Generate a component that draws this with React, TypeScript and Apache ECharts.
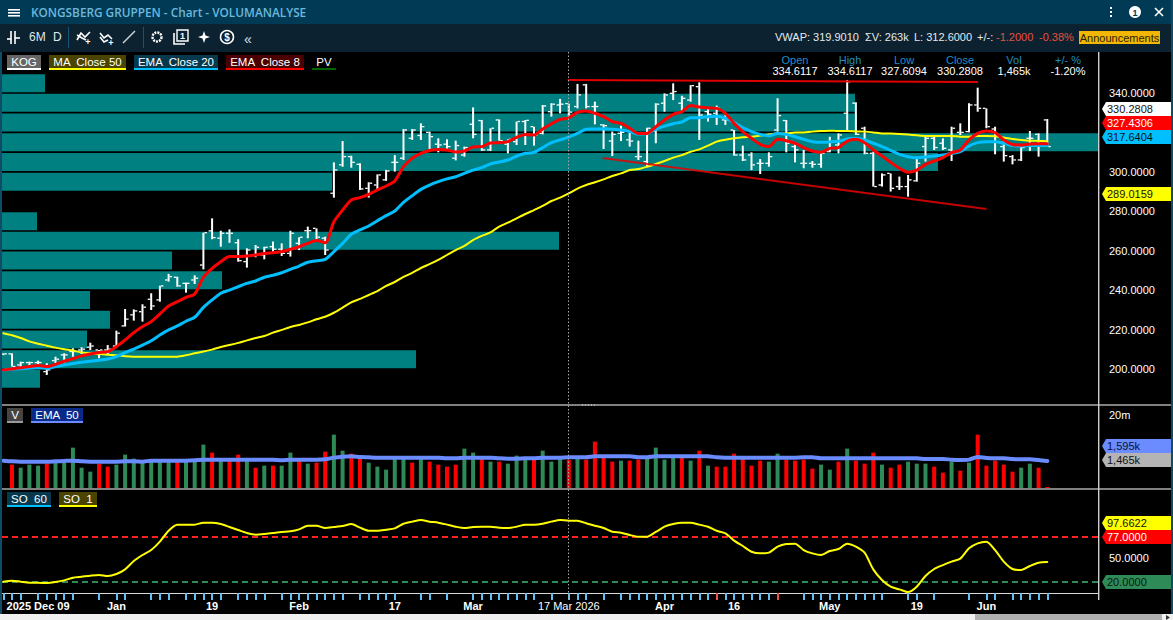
import React, { useEffect, useRef } from "react";
import * as echarts from "echarts";

const opens = [207.8,207.6,202,203.2,203.2,198.6,204.2,207.1,208.8,209.6,211,209.6,209.6,211.6,221.8,227.4,229,235.3,235,245.1,246.5,243.4,245.1,252.7,270,266.3,268.8,264,254.4,257.8,257.8,262,260.7,258.6,263.7,270.1,271.3,266.3,289.1,303.5,307.7,303.8,291.6,293.3,295.9,304.8,306.9,317,318.4,320,314,314,306.9,308.5,324.1,326,311.1,326.3,314,315.3,325.5,322.9,319.5,330.5,333.9,334.6117,333.1,344.1,333.1,323.8,315.6,319.5,316.2,307.7,305.2,320.4,334.8,339.8,334.8,336.4,343.2,330.5,329.7,326.3,321.2,308.5,308.5,304.3,304.3,321.2,326,312.8,304.3,304.3,303.8,310.2,313.6,329.7,334.8,322.1,309.4,293.3,299.2,292.5,292.5,295.4,312.8,317,314.5,311.1,320,320.4,333.9,332.2,321.7,312.8,307.7,306,317,319,326.3];
const highs = [207.9,207.9,203.7,203.7,204.2,202.9,206.2,207.9,210.5,211,213.3,209.6,212.1,219.4,230.4,230.2,232.8,238.4,242.2,248.2,246.8,243.8,247.5,269.1,276.4,270.1,270.8,265.8,261.2,262.9,262,264.6,263.7,270.1,266.8,272.2,271.3,267.1,304.8,315.6,308.2,304.3,294.7,298.7,301,308.5,321.7,321.7,324.6,320.4,317,316.5,315.8,312.8,332.7,326.3,322.1,326.6,316.5,325.5,326.3,322.9,333.9,334.8,337,334.6117,344.6,344.6,335.6,324.1,320.4,323.4,320,315.8,322.4,334.8,339.8,344.9,338.6,344,345.4,332.2,333.6,328.8,321.2,313.3,309.9,306.5,309.9,337.3,326.3,314.5,311.1,305.5,309.9,317.8,319.5,346.6,335.3,322.9,310.2,299.2,299.2,297.6,298.4,307.7,317.8,317.8,317,322.9,324.6,334.8,342.7,332.2,322.9,317.8,308.5,312.8,320.7,319.5,326.8];
const lows = [207,201.2,200.3,201.2,201.5,196.9,202.9,202.9,206.2,207.6,209.6,205.4,207.1,211.3,221.5,224.5,224,229.9,234.1,244.3,241.7,238.7,243.1,250.5,265.8,262,264,254.4,251.4,256.6,255.6,259.5,257.3,257,260.3,266.3,265.4,257.8,286.9,302.6,302.1,290.8,286.9,290.8,295.4,300.1,306,316.2,316.2,311.6,309.9,311.1,305.8,307.7,317,310.6,310.6,315.8,309.4,313.6,313.6,313.3,319,328,329.7,327.6094,332.2,332.2,324.1,311.6,308,315.6,312.8,306,302.6,314.5,330.5,336.4,330.9,335.6,316.2,325.5,323.8,323.8,308.2,305.5,300.9,298.9,302.6,320.4,309.9,304.8,301.8,302.1,302.1,309.9,309.4,320.7,318.7,308.9,292.5,292.5,290,290.8,287.4,295,305.2,311.1,311.1,305.5,318.7,320,330.5,322.1,308.9,305.2,303.8,305.5,310.6,307.7,312.6];
const closes = [207.6,201.2,203.2,203.2,203.2,199.5,204.9,207.1,208.8,210,211.6,209.6,210,218.1,225.2,229.4,231.3,231.9,242.1,246.8,242.1,243.4,246,269.1,266.6,268.8,268.8,254.9,260.3,261.7,261.7,260.7,258.6,268.8,266.8,270.1,266.8,260.3,300.9,307.7,304.8,291.3,294.2,298.4,300.4,304.8,321.2,321.2,322.9,317.8,313.6,312.8,313.3,312.3,319,311.1,322.1,315.8,316.5,325.5,326.1,318.7,333.4,334.3,334.3,330.2808,339,333.1,333.1,323.4,319,320,315.6,307.7,322.1,334.3,339,340.7,337.3,343.7,328.8,329.2,332.2,326.3,308.5,306,303.5,304.3,307.7,328.5,314.5,311.1,304.3,303.8,309.4,315.3,318.7,345.7,319,309.4,292.5,298.4,291.6,292.5,295.9,304.3,317,312.3,311.9,322.1,320,333.9,332.2,322.9,318.7,308.2,306,312.3,317,313.6,312.8];

const ma50 = [218.1,217.1,215.7,214,212.8,211.8,210.8,210,209.3,208.4,207.9,207.6,207.2,206.9,206.4,206.2,206.2,206.2,206.2,206.2,206.2,206.9,207.9,208.8,209.8,211.1,212.1,213.2,214.5,215.7,216.7,218.4,219.8,221.3,222.3,223.6,225.2,226.5,228.5,231.1,233.8,235.5,237.5,239.5,242.1,244.1,246.7,248.7,251.2,253.2,255.3,257.8,260.3,262.4,265.4,267.5,269.3,272.2,274.2,276.4,278.6,280.6,282.7,285.2,286.9,289.0159,291.5,293.3,294.7,296.2,297.9,299.2,300.9,301.4,302.6,304,305.5,307.2,308.5,310.2,311.4,313.3,315.3,316.3,317,317.5,317.8,318.4,319,319.4,319.5,319.9,320,320.4,320.7,320.9,320.7,320.7,320.5,320.4,320,319.5,319.4,319.2,318.9,318.5,318.2,318.2,318.2,318.2,317.8,317.8,318.2,318.2,318,317.3,316.7,316.2,315.8,315.7,315.5];
const ema20 = [199.5,199.8,200.1,200.3,200.6,200.3,201.2,202,202.7,203.4,203.9,204.4,205,206.2,208.3,210.1,212.1,214.3,217.2,219.8,221.8,224.2,226.2,231.2,235,238.4,240,241.7,243.4,244.6,246.5,247.5,248.8,250.5,252.2,254.1,254.9,255.6,259.5,263.7,268.3,270.5,272.5,275.2,277.8,280.1,284.5,287.9,291.1,293.3,295,296.4,297.5,299.2,300.9,302.1,304,305,306,307.9,309.4,309.9,312.3,314.8,316.2,317.6404,319.5,321.6,321.7,321.9,321.6,321.2,320.4,319.2,319.4,321.6,323.2,324.4,325.3,327.5,327.5,328,328.2,327.2,325.1,322.4,320.4,319,318.2,319.5,319,317.8,316.5,315.3,315,315.2,315.5,316.7,317,316.2,314.5,312.8,310.9,308.9,307.7,307.2,307.5,308,308.5,309.4,310.2,313.1,314.8,315.3,315.3,314.5,313.3,313.1,313.3,313.3,313.3];
const ema8 = [199.5,200,200.6,201.2,201.7,201.2,202.3,203.9,205.2,206.6,207.6,208.3,208.8,211.3,214.7,218.4,221.5,224,227.9,231.9,234.1,236.3,238,246.5,251,254.4,257,257,257.3,257.8,258.6,259,259.5,260.7,262,263.7,265.1,264,274.7,280.6,285.7,286.9,288.6,290.8,292.8,295.4,302.6,306.9,309.4,310.8,311.3,311.1,310.1,310.6,312.6,312.8,314.6,314.8,315.3,317.5,319,318.7,321.7,324.4,326.6,327.4306,330.2,330.9,329.7,328,325.5,324.6,322.1,319.4,319.5,322.9,326.3,329.2,330.5,333.6,332.9,332.4,332.2,329.7,324.6,320.4,317,313.9,312.8,316.5,315.8,314.5,312.3,310.6,309.9,311.9,312.3,315.6,316.5,314.8,311.1,308,304.8,301.8,299.8,300.9,303.8,305.5,307.2,309.7,311.1,316.2,319.5,320.7,319.9,316.2,313.9,313.6,314.1,314.3,314.3];

const volumes = [0,1222,1064,1222,1169,1274,1309,1309,2111,1064,855,1274,1117,1222,1745,1536,1309,1396,1396,1396,1396,1396,1431,2269,1850,1431,1431,1745,1431,1064,1169,1169,1169,1850,1431,1274,1326,1902,2792,1954,1797,1658,1326,1117,960,1536,1571,1326,1571,1379,1222,1117,1222,2059,1850,1571,1379,1379,1274,1693,1483,1483,1954,1379,1571,1465,1536,1483,2426,1658,1379,1431,1431,1483,1571,2111,1483,1658,1658,1431,1954,1169,1117,1117,1797,1571,1169,1431,1379,1797,1483,1431,1483,1012,1222,960,1379,2059,1431,1274,1850,1222,1064,1222,1379,1274,1274,1117,803,1379,907,1326,2792,1169,1431,1222,855,1064,1274,1064,52];
const volumeSides = ("g" + "rgggrggggg" + "rrgggggggr" + "gggrgrrgrg" + "rggrgrrggr" + "rgggggrgrr" + "rrggrgrggg" + "rgggrgrrrr" + "grrggggrgr" + "grrrrrrggr" + "rrrggrgrrr" + "grrgggrrgr" + "grrrrrggrr").split("");
const volumeEma = [1431,1396,1379,1379,1379,1379,1396,1413,1431,1396,1379,1379,1379,1379,1396,1396,1379,1431,1431,1431,1431,1431,1448,1483,1483,1483,1483,1483,1483,1483,1483,1483,1448,1483,1483,1483,1483,1501,1588,1640,1658,1623,1605,1588,1588,1588,1588,1588,1588,1588,1588,1553,1553,1588,1588,1588,1588,1553,1536,1536,1553,1553,1588,1588,1588,1605,1605,1605,1658,1658,1658,1658,1658,1605,1605,1658,1658,1658,1658,1658,1658,1658,1605,1588,1588,1588,1588,1588,1588,1588,1588,1588,1605,1605,1553,1553,1553,1553,1553,1553,1553,1553,1553,1553,1553,1553,1518,1518,1518,1483,1466,1483,1623,1571,1553,1553,1518,1501,1501,1466,1413];

const stochastic = [20.4,21.7,20.4,19.1,19.1,18.7,20,22.1,25.5,26.7,28,28.9,27.6,30.1,36,46.6,54.2,60.5,71.1,85,92.7,92.7,92.7,95.2,95.2,93.5,89.7,85.9,82.1,80,80.8,82.1,83.4,84.2,86.7,91.4,91.4,88.4,89.7,91,93.5,88.9,85,85,86.3,88,93.9,96.5,98.6,96.5,95.2,92.7,90.1,88.4,89.7,90.1,90.1,88.9,88.4,90.1,92.7,92.7,93.9,96.5,98.6,97.6622,97.7,94.4,91.4,88.4,83.8,82.5,79.6,77.4,77.4,83.4,90.1,93.5,95.2,95.2,92.7,90.1,85,81.7,72.4,65.6,58.4,56.3,57.2,64.8,68.2,68.6,60.5,56.3,54.2,59.3,61.8,68.6,64.8,57.2,36,22.5,14.1,10.7,7.3,14.1,27.6,36.5,41.5,45.8,49.6,62.7,69,71.1,60.5,45.8,36.5,35.2,40.3,44.5,45.3];

const profileLevels = ["195","205","215","225","235","245","255","265","275","285","295","305","315","325","335","345"];
const profileVolumes = [38,414,85,108,88,220,170,557,35,0,330,936,1096,855,853,43];

const resistance = [[64.9,346.6],[112,345.6]];
const support = [[68.9,307],[113,281.1]];
const soUpper = 77;
const soLower = 20;

const priceTicks = [200,220,240,260,280,300,340];
const dateLabels: Record<number,string> = {4:"2025 Dec 09",13:"Jan",24:"19",34:"Feb",45:"17",54:"Mar",65:"17 Mar 2026",76:"Apr",84:"16",95:"May",105:"19",113:"Jun"};
const dateTicks = [0,1,2,4,5,6,7,8,11,13,14,17,18,19,21,22,23,24,25,27,28,29,30,32,33,34,35,36,37,38,39,41,42,43,44,45,48,49,51,54,55,56,57,58,59,60,61,63,65,66,67,69,71,72,73,74,75,76,77,78,79,80,81,83,84,85,86,87,88,92,93,94,95,96,97,98,99,100,101,104,105,107,111,113,114,116,117,118,119,120];
const redDateTicks = [82,89];

const FONT = '"Liberation Sans", Arial, sans-serif';
const X_MIN = -0.149;
const X_MAX = 125.83;
const TEAL = "#008080";

const txt = (text: string, x: number, y: number, fill: string, size = 11, align = "left", weight = "normal", family = FONT) => ({
  type: "text", z: 30, silent: true,
  style: { text, x, y, fill, font: `${weight} ${size}px ${family}`, align, textAlign: align, verticalAlign: "middle", textVerticalAlign: "middle" },
});
const rect = (x: number, y: number, width: number, height: number, fill: string, z = 25) => ({
  type: "rect", z, silent: true, shape: { x, y, width, height }, style: { fill },
});
const pline = (points: number[][], stroke = "#fff", lineWidth = 1.6) => ({
  type: "polyline", z: 30, silent: true, shape: { points }, style: { stroke, lineWidth, fill: "none" },
});
const chip = (x: number, y: number, w: number, label: string, bg: string | null, under: string) => [
  ...(bg ? [rect(x, y, w, 13, bg)] : []),
  rect(x, y + 13, w, 2, under),
  txt(label, x + w / 2, y + 7, "#ffffff", 11.5, "center"),
];
const tag = (y: number, text: string, bg: string, color: string) => [
  { type: "polygon", z: 28, silent: true, shape: { points: [[1102, y], [1106, y - 7], [1171, y - 7], [1171, y + 7], [1106, y + 7]] }, style: { fill: bg } },
  txt(text, 1107, y, color, 11),
];

function buildGraphic() {
  const els: any[] = [
    rect(0, 0, 1173, 24, "#003a54"),
    rect(0, 24, 1173, 28, "#0c2230"),
    rect(0, 52, 2, 562, "#0f4c68"),
    rect(1171, 0, 2, 614, "#0f4c68"),
    rect(8, 9, 12, 1.6, "#ffffff"), rect(8, 12, 12, 1.6, "#ffffff"), rect(8, 15, 12, 1.6, "#ffffff"),
    txt("KONGSBERG GRUPPEN - Chart - VOLUMANALYSE", 31, 12, "#6cb8dc", 11.8, "left", "600", '"Open Sans", sans-serif'),
    // window controls
    rect(1110, 7, 2, 2, "#fff"), rect(1110, 11, 2, 2, "#fff"), rect(1110, 15, 2, 2, "#fff"),
    { type: "circle", z: 30, silent: true, shape: { cx: 1135, cy: 12, r: 6 }, style: { fill: "#fff" } },
    txt("1", 1135, 12.5, "#003a54", 9, "center", "bold"),
    pline([[1155, 8], [1163, 16]]), pline([[1163, 8], [1155, 16]]),
    // toolbar
    pline([[7, 39], [11, 39]]), pline([[11, 31], [11, 44]]), pline([[15, 31], [15, 44]]), pline([[15, 38], [20, 38]]),
    txt("6M", 29, 37, "#dfe8ee", 12), txt("D", 53, 37, "#dfe8ee", 12),
    rect(68, 27, 1, 21, "#14567a"), rect(143, 27, 1, 21, "#14567a"),
    pline([[77, 40], [81, 33], [85, 37], [90, 32]]), pline([[77, 35], [82, 38], [86, 40]]), txt("+", 88, 42, "#fff", 9, "center", "bold"),
    pline([[100, 33], [104, 38], [108, 35], [112, 39]]), pline([[100, 37], [104, 42], [108, 40]]), txt("+", 111, 43, "#fff", 9, "center", "bold"),
    pline([[123, 43], [135, 31]], "#cfd6db", 1.4),
    { type: "circle", z: 30, silent: true, shape: { cx: 157, cy: 37, r: 4.5 }, style: { fill: "none", stroke: "#fff", lineWidth: 2.4, lineDash: [2, 1] } },
    { type: "rect", z: 30, silent: true, shape: { x: 177, y: 30, width: 11, height: 11 }, style: { fill: "none", stroke: "#fff", lineWidth: 1.4 } },
    pline([[174, 33], [174, 44], [185, 44]]),
    txt("1", 182.5, 35.5, "#fff", 9, "center", "bold"),
    { type: "polygon", z: 30, silent: true, shape: { points: [[204, 31], [205.5, 35.5], [210, 37], [205.5, 38.5], [204, 43], [202.5, 38.5], [198, 37], [202.5, 35.5]] }, style: { fill: "#fff" } },
    { type: "circle", z: 30, silent: true, shape: { cx: 227, cy: 37, r: 6.5 }, style: { fill: "none", stroke: "#fff", lineWidth: 1.5 } },
    txt("$", 227, 37, "#fff", 10, "center", "bold"),
    txt("«", 248, 39, "#cfe0ea", 14, "center"),
    // status strip
    txt("VWAP: 319.9010", 775, 37, "#e4e9ec", 11),
    txt("ΣV: 263k", 865, 37, "#e4e9ec", 11),
    txt("L: 312.6000", 914, 37, "#e4e9ec", 11),
    txt("+/-:", 977, 37, "#e4e9ec", 11),
    txt("-1.2000", 996, 37, "#e8503f", 11),
    txt("-0.38%", 1039, 37, "#e8503f", 11),
    rect(1079, 31, 81, 13, "#f2b705"),
    txt("Announcements", 1119.5, 37.5, "#2a2100", 11, "center"),
    // crosshair readout
    txt("Open", 795, 60, "#1f8ec2", 11, "center"), txt("High", 850, 60, "#1f8ec2", 11, "center"),
    txt("Low", 904, 60, "#1f8ec2", 11, "center"), txt("Close", 960, 60, "#1f8ec2", 11, "center"),
    txt("Vol", 1014, 60, "#1f8ec2", 11, "center"), txt("+/- %", 1068, 60, "#1f8ec2", 11, "center"),
    txt("334.6117", 795, 70.5, "#fff", 11, "center"), txt("334.6117", 850, 70.5, "#fff", 11, "center"),
    txt("327.6094", 904, 70.5, "#fff", 11, "center"), txt("330.2808", 960, 70.5, "#fff", 11, "center"),
    txt("1,465k", 1014, 70.5, "#fff", 11, "center"), txt("-1.20%", 1068, 70.5, "#fff", 11, "center"),
    ...chip(7, 55, 34, "KOG", "#666666", "#ffffff"),
    ...chip(49, 55, 77, "MA  Close 50", "#4a4400", "#ffff00"),
    ...chip(134, 55, 84, "EMA  Close 20", "#06394d", "#00bfff"),
    ...chip(226, 55, 78, "EMA  Close 8", "#4a0000", "#ff0000"),
    ...chip(312, 55, 24, "PV", null, "#006400"),
    ...chip(7, 408, 16, "V", "#444444", "#999999"),
    ...chip(31, 408, 52, "EMA  50", "#0a2a8a", "#6a8cff"),
    ...chip(7, 492, 44, "SO  60", "#06394d", "#00bfff"),
    ...chip(59, 492, 38, "SO  1", "#4a4400", "#ffff00"),
    // panel separators and scale rule
    rect(0, 404, 1171, 2, "#808080", 24),
    rect(0, 488, 1171, 2, "#808080", 24),
    rect(1098, 52, 1.4, 548, "#cfcfcf", 26),
    { type: "line", z: 26, silent: true, shape: { x1: 582, y1: 405, x2: 596, y2: 405 }, style: { stroke: "#e0e0e0", lineWidth: 1, lineDash: [1, 2] } },
    { type: "line", z: 26, silent: true, shape: { x1: 568.5, y1: 52, x2: 568.5, y2: 600 }, style: { stroke: "#a8a8a8", lineWidth: 1, lineDash: [1.5, 2] } },
    txt("20m", 1109, 415, "#fff", 11),
    ...tag(109, "330.2808", "#ffffff", "#111111"),
    ...tag(123, "327.4306", "#ff0000", "#ffffff"),
    ...tag(137, "317.6404", "#00bfff", "#111111"),
    ...tag(194, "289.0159", "#ffff00", "#111111"),
    ...tag(446, "1,595k", "#6a8cff", "#0a1030"),
    ...tag(460, "1,465k", "#b4b4b4", "#111111"),
    ...tag(523, "97.6622", "#ffff00", "#111111"),
    ...tag(537, "77.0000", "#ff0000", "#ffffff"),
    ...tag(582, "20.0000", "#2e8b57", "#0a1a10"),
    // scroll strip
    rect(0, 614, 1173, 6, "#f0f0f0"),
    rect(975, 614, 187, 6, "#b0b0b0"),
    { type: "polygon", z: 30, silent: true, shape: { points: [[1166, 615], [1170, 617.5], [1166, 620]] }, style: { fill: "#333" } },
  ];
  return els;
}

const renderOhlc = (_: any, api: any) => {
  const i = api.value(0);
  const x = api.coord([i, 0])[0];
  const yO = api.coord([i, api.value(1)])[1];
  const yH = api.coord([i, api.value(2)])[1];
  const yL = api.coord([i, api.value(3)])[1];
  const yC = api.coord([i, api.value(4)])[1];
  const style = { fill: "#ffffff" };
  return {
    type: "group",
    children: [
      { type: "rect", shape: { x: x - 1, y: yH, width: 2, height: Math.max(yL - yH, 1) }, style },
      { type: "rect", shape: { x: x - 3.5, y: yO - 0.7, width: 2.5, height: 1.3 }, style },
      { type: "rect", shape: { x: x + 1, y: yC - 0.7, width: 2.5, height: 1.3 }, style },
    ],
  };
};

const hiddenX = (gridIndex: number) => ({
  type: "value", gridIndex, min: X_MIN, max: X_MAX, show: false,
  axisLine: { show: false }, axisTick: { show: false }, axisLabel: { show: false }, splitLine: { show: false },
});

const lineSeries = (name: string, data: number[], color: string, width: number, xAxisIndex: number, yAxisIndex: number, z: number, extra: any = {}) => ({
  name, type: "line", xAxisIndex, yAxisIndex, z, silent: true, showSymbol: false, symbol: "none", smooth: 0.25,
  data: data.map((v, i) => [i, v]),
  lineStyle: { color, width, cap: "round", join: "round" },
  ...extra,
});

function buildOption() {
  return {
    animation: false,
    backgroundColor: "#000000",
    textStyle: { fontFamily: FONT },
    graphic: { elements: buildGraphic() },
    grid: [
      { left: 2, width: 1096, top: 73.3, height: 315.4 },
      { left: 2, width: 1096, top: 52, height: 352 },
      { left: 2, width: 1096, top: 406, height: 82 },
      { left: 2, width: 1096, top: 490, height: 103 },
    ],
    xAxis: [
      { type: "value", gridIndex: 0, min: 0, max: 1096, show: false, splitLine: { show: false } },
      hiddenX(1),
      hiddenX(2),
      {
        type: "value", gridIndex: 3, min: X_MIN, max: X_MAX, position: "bottom", splitLine: { show: false },
        axisLine: { show: true, lineStyle: { color: "#d8d8d8", width: 1 } },
        axisTick: { show: true, customValues: dateTicks, length: 7, lineStyle: { color: "#5fc4f5", width: 2 } },
        axisLabel: {
          show: true, customValues: Object.keys(dateLabels).map(Number), margin: 7, color: "#ffffff", hideOverlap: false,
          formatter: (v: number) => (v === 65 ? `{n|${dateLabels[v]}}` : `{b|${dateLabels[v] ?? ""}}`),
          rich: {
            b: { fontFamily: FONT, fontSize: 11, fontWeight: "bold", color: "#ffffff" },
            n: { fontFamily: FONT, fontSize: 11, color: "#ffffff" },
          },
        },
      },
      {
        type: "value", gridIndex: 3, min: X_MIN, max: X_MAX, position: "bottom", splitLine: { show: false },
        axisLine: { show: false }, axisLabel: { show: false },
        axisTick: { show: true, customValues: redDateTicks, length: 7, lineStyle: { color: "#f05050", width: 2 } },
      },
    ],
    yAxis: [
      { type: "category", gridIndex: 0, data: profileLevels, show: false, axisTick: { show: false } },
      {
        type: "value", gridIndex: 1, min: 182.2, max: 360.8, position: "right", splitLine: { show: false },
        axisLine: { show: false }, axisTick: { show: false },
        axisLabel: { show: true, customValues: priceTicks, margin: 11, color: "#ffffff", fontSize: 11, fontFamily: FONT, formatter: (v: number) => v.toFixed(4) },
      },
      { type: "value", gridIndex: 2, min: 0, max: 4289, show: false, splitLine: { show: false } },
      {
        type: "value", gridIndex: 3, min: 6.08, max: 136.6, position: "right", splitLine: { show: false },
        axisLine: { show: false }, axisTick: { show: false },
        axisLabel: { show: true, customValues: [50], margin: 11, color: "#ffffff", fontSize: 11, fontFamily: FONT, formatter: (v: number) => v.toFixed(4) },
      },
    ],
    series: [
      {
        name: "PV", type: "bar", xAxisIndex: 0, yAxisIndex: 0, z: 1, silent: true, barWidth: 18,
        data: profileVolumes, itemStyle: { color: TEAL },
      },
      {
        name: "KOG", type: "custom", xAxisIndex: 1, yAxisIndex: 1, z: 3, silent: true, renderItem: renderOhlc,
        dimensions: ["i", "open", "high", "low", "close"],
        encode: { x: 0, y: [1, 2, 3, 4] },
        data: opens.map((o, i) => [i, o, highs[i], lows[i], closes[i]]),
      },
      lineSeries("MA Close 50", ma50, "#ffff00", 2, 1, 1, 4),
      lineSeries("EMA Close 20", ema20, "#00bfff", 3, 1, 1, 5),
      lineSeries("EMA Close 8", ema8, "#ff0000", 3, 1, 1, 6),
      { name: "Resistance", type: "line", xAxisIndex: 1, yAxisIndex: 1, z: 7, silent: true, showSymbol: false, symbol: "none", data: resistance, lineStyle: { color: "#e00000", width: 2 } },
      { name: "Support", type: "line", xAxisIndex: 1, yAxisIndex: 1, z: 7, silent: true, showSymbol: false, symbol: "none", data: support, lineStyle: { color: "#e80000", width: 2, opacity: 0.85 } },
      {
        name: "V", type: "bar", xAxisIndex: 2, yAxisIndex: 2, z: 3, silent: true, barWidth: 4,
        data: volumes.map((v, i) => ({ value: [i, v], itemStyle: { color: volumeSides[i] === "g" ? "#2e8b57" : "#ff0000" } })),
      },
      lineSeries("EMA 50", volumeEma, "#6a8cff", 4, 2, 2, 5),
      lineSeries("SO 1", stochastic, "#ffff00", 2, 3, 3, 5, {
        markLine: {
          silent: true, symbol: "none", label: { show: false }, animation: false,
          data: [
            { yAxis: soUpper, lineStyle: { color: "#ff2020", type: [6, 4], width: 2 } },
            { yAxis: soLower, lineStyle: { color: "#2e8b57", type: [6, 4], width: 2 } },
          ],
        },
      }),
    ],
  };
}

export default function App() {
  const ref = useRef<HTMLDivElement>(null);
  useEffect(() => {
    document.body.style.margin = "0";
    document.body.style.background = "#000";
    const chart = echarts.init(ref.current!, undefined, { renderer: "svg" });
    chart.setOption(buildOption() as any);
    return () => chart.dispose();
  }, []);
  return <div ref={ref} style={{ width: 1173, height: 620 }} />;
}
